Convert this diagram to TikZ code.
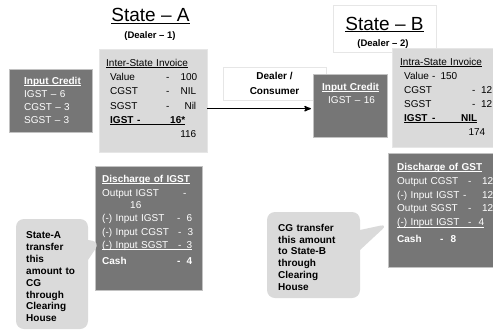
\documentclass[tikz,border=0pt]{standalone}
\usepackage{fontspec}
\setmainfont{Liberation Sans}
\usetikzlibrary{arrows,positioning,calc,shapes.callouts}
\definecolor{darkFill}{HTML}{767676}
\definecolor{lightFill}{HTML}{DADADA}
\definecolor{darkEdge}{HTML}{C2C2C2}
\definecolor{lightEdge}{HTML}{E6E6E6}
\newcommand{\ulin}[2][1.6pt]{\leavevmode\setbox0=\hbox{#2}\rlap{\rule[-#1]{\wd0}{0.7pt}}\box0}
\newcommand{\hd}[1]{\ulin{\textbf{#1}}}
\newcommand{\trow}[4]{\makebox[#1][l]{#2}\makebox[#3]{-\hfill #4}}
\tikzset{
	dark box/.style={draw=darkEdge, line width=0.8pt, fill=darkFill, inner sep=0, outer sep=0},
	light box/.style={draw=lightEdge, line width=0.8pt, fill=lightFill, inner sep=0, outer sep=0},
	white box/.style={draw=lightEdge, line width=0.8pt, fill=white, inner sep=0, outer sep=0},
	box text/.style={anchor=base west, inner sep=0, text width=110pt, align=left},
	bubble/.style={rectangle callout, fill=lightFill, rounded corners=8pt, inner sep=0, callout pointer width=20pt}
}

\begin{document}
\begin{tikzpicture}[x=1pt, y=-1pt]
\path[use as bounding box, fill=white] (0,0) rectangle (493,330);
% State A
\node[anchor=base, inner sep=0] (titleA) at (150.5,21.7) {\fontsize{19}{22}\selectfont\ulin[2pt]{State -- A}};
\node[anchor=base, inner sep=0] (dealerA) at (150,38) {\fontsize{9.5}{11}\selectfont\textbf{(Dealer -- 1)}};
\node[dark box, minimum width=83pt, minimum height=63pt] (icA) at (50.5,100.5) {};
\node[box text, text=white, font=\fontsize{10}{13}\selectfont] (icA_txt) at (24,84.5) {\hd{Input Credit}\\ IGST -- 6\\ CGST -- 3\\ SGST -- 3};
\node[light box, minimum width=108pt, minimum height=103pt] (invA) at (153,100.5) {};
\node[box text, font=\fontsize{10}{14.2}\selectfont] (invA_txt) at (106,66.5) {\ulin{Inter-State Invoice}\\
\hspace*{4pt}\trow{56pt}{Value}{31pt}{100}\\
\hspace*{4pt}\trow{56pt}{CGST}{30pt}{NIL}\\
\hspace*{4pt}\trow{56pt}{SGST}{30pt}{Nil}\\
\hspace*{4pt}\ulin{\textbf{\trow{27pt}{IGST}{48pt}{16*}}}\\
\hspace*{4pt}\makebox[86pt][r]{116}};
\node[dark box, minimum width=107pt, minimum height=124pt] (discA) at (148.5,228) {};
\node[box text, text=white, font=\fontsize{10}{13.5}\selectfont] (discA_txt) at (102,182.5) {\hd{Discharge of IGST}\\
\makebox[81pt][l]{Output IGST}-\\[-1.5pt]
\hspace*{28pt}16\\
\trow{75pt}{(-) Input IGST}{15pt}{6}\\
\trow{76pt}{(-) Input CGST}{15pt}{3}\\
\ulin{\trow{76pt}{(-) Input SGST}{14pt}{3}}\\[2pt]
\textbf{\trow{75pt}{Cash}{15pt}{4}}};
% Dealer / Consumer and arrow
\node[white box, minimum width=103pt, minimum height=33pt, align=center, font=\fontsize{10}{15}\selectfont\bfseries] (dealer) at (274.5,83.5) {Dealer /\\ Consumer};
% State B
\node[white box, minimum width=103pt, minimum height=47pt] (boxB) at (384.5,28.5) {};
\node[anchor=base, inner sep=0] (titleB) at (384.5,30) {\fontsize{19}{22}\selectfont\ulin[2pt]{State -- B}};
\node[anchor=base, inner sep=0] (dealerB) at (383,46.5) {\fontsize{9.5}{11}\selectfont\textbf{(Dealer -- 2)}};
\node[dark box, minimum width=74pt, minimum height=63pt] (icB) at (350,105.5) {};
\node[box text, text=white, font=\fontsize{10}{13}\selectfont] (icB_txt) at (322,90.5) {\hd{Input Credit}\\ \hspace*{6pt}IGST -- 16};
\node[light box, minimum width=108pt, minimum height=99pt] (invB) at (446,97.5) {};
\node[box text, font=\fontsize{10}{14}\selectfont] (invB_txt) at (400,65.5) {\ulin{Intra-State Invoice}\\
\hspace*{4pt}\trow{28pt}{Value}{25pt}{150}\\
\hspace*{4pt}\trow{68pt}{CGST}{20pt}{12}\\
\hspace*{4pt}\trow{68pt}{SGST}{20pt}{12}\\
\hspace*{4pt}\ulin{\textbf{\trow{28pt}{IGST}{45pt}{NIL}}}\\
\hspace*{4pt}\makebox[81pt][r]{174}};
\node[dark box, minimum width=108pt, minimum height=114pt] (discB) at (442,210) {};
\node[box text, text=white, font=\fontsize{10}{13.8}\selectfont] (discB_txt) at (397,170.5) {\hd{Discharge of GST}\\
\trow{71pt}{Output CGST}{25pt}{12}\\
\trow{66pt}{(-) Input IGST}{30pt}{12}\\
\trow{71pt}{Output SGST}{25pt}{12}\\
\ulin{\trow{71pt}{(-) Input IGST}{16pt}{4}}\\[3pt]
\textbf{\trow{43pt}{Cash}{16pt}{8}}};
\coordinate (arrEnd) at ($(icB.north west)!0.55!(icB.south west)$);
\draw[->, >=stealth', line width=1.3pt, shorten >=2pt] (invA.east |- arrEnd) -- (arrEnd);
% callouts
\node[bubble, minimum width=72pt, minimum height=110pt, callout absolute pointer={(100,242)}] (noteA) at (52,274) {};
\node[box text, font=\fontsize{10}{11.9}\selectfont\bfseries] (noteA_txt) at (26,238.5) {State-A\\ transfer\\ this\\ amount to\\ CG\\ through\\ Clearing\\ House};
\node[bubble, minimum width=93pt, minimum height=86pt, callout absolute pointer={(388,224)}] (noteB) at (313.5,255) {};
\node[box text, font=\fontsize{10}{11.7}\selectfont\bfseries] (noteB_txt) at (278,231.5) {CG transfer\\ this amount\\ to State-B\\ through\\ Clearing\\ House};
\end{tikzpicture}
\end{document}
